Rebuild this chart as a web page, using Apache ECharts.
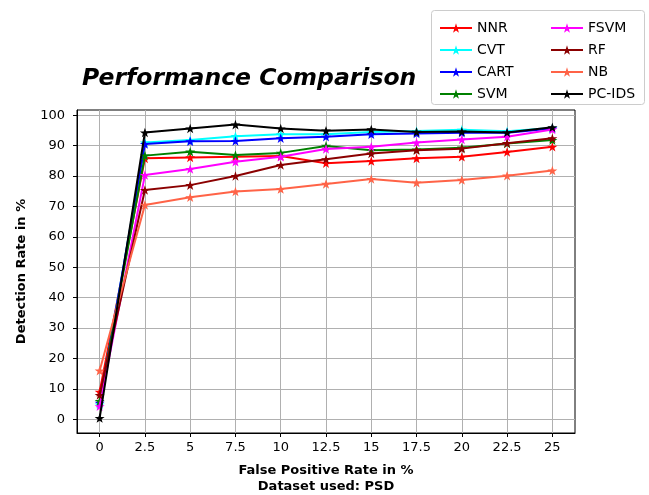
<!DOCTYPE html>
<html>
<head>
<meta charset="utf-8">
<script src="https://cdn.jsdelivr.net/npm/echarts@6/dist/echarts.min.js"></script>
<style>html,body{margin:0;padding:0;background:#fff}#c{width:649px;height:495px}</style>
</head>
<body>
<div id="c"></div>
<script>
const xValues = [0, 2.5, 5, 7.5, 10, 12.5, 15, 17.5, 20, 22.5, 25];
const yTicks = [0, 10, 20, 30, 40, 50, 60, 70, 80, 90, 100];
const seriesNames = ['NNR', 'CVT', 'CART', 'SVM', 'FSVM', 'RF', 'NB', 'PC-IDS'];
const NNR   = [9.0, 85.8, 86.1, 86.3, 86.6, 84.2, 84.9, 85.8, 86.3, 87.9, 89.6];
const CVT   = [4.8, 91.0, 91.8, 93.1, 93.7, 93.7, 94.5, 94.8, 95.2, 94.7, 95.8];
const CART  = [5.4, 90.5, 91.4, 91.5, 92.4, 92.9, 93.7, 94.0, 94.2, 94.2, 95.6];
const SVM   = [6.0, 86.7, 88.0, 86.9, 87.6, 89.9, 88.5, 88.7, 89.3, 90.7, 91.8];
const FSVM  = [4.3, 80.3, 82.3, 84.7, 86.3, 88.9, 89.6, 91.0, 92.0, 92.9, 95.3];
const RF    = [8.0, 75.4, 77.0, 80.0, 83.6, 85.5, 87.4, 88.5, 89.0, 90.8, 92.4];
const NB    = [16.0, 70.5, 73.0, 74.9, 75.7, 77.4, 79.0, 77.8, 78.7, 80.1, 81.8];
const PCIDS = [0.4, 94.3, 95.6, 96.9, 95.6, 94.9, 95.3, 94.5, 94.6, 94.3, 96.0];

const seriesData = [NNR, CVT, CART, SVM, FSVM, RF, NB, PCIDS];
const colors = ['#ff0000', '#00ffff', '#0000ff', '#008000', '#ff00ff', '#8b0000', '#ff6347', '#000000'];
const star = 'path://M50,0 L61.8,35.3 L98.1,35.3 L68.8,57.1 L79.4,91.9 L50,70.6 L20.6,91.9 L31.2,57.1 L1.9,35.3 L38.2,35.3 Z';
const FONT = 'DejaVu Sans';

const chart = echarts.init(document.getElementById('c'), null, {renderer: 'canvas'});
const series = seriesNames.map((name, i) => ({
  name: name,
  type: 'line',
  data: xValues.map((x, j) => [x, seriesData[i][j]]),
  symbol: star,
  symbolSize: 10,
  symbolKeepAspect: true,
  showAllSymbol: true,
  lineStyle: {width: 2, color: colors[i]},
  itemStyle: {color: colors[i]},
  color: colors[i],
  z: 2 + i,
  animation: false
}));

const legendCommon = {
  orient: 'vertical', top: 16,
  itemWidth: 32, itemHeight: 12, itemGap: 8,
  textStyle: {fontFamily: FONT, fontSize: 14, color: '#000'},
  z: 5
};

chart.setOption({
  animation: false,
  backgroundColor: '#ffffff',
  textStyle: {fontFamily: FONT},
  title: {
    text: 'Performance Comparison',
    left: 77, top: 62,
    textStyle: {fontFamily: FONT, fontSize: 23.5, fontWeight: 'bold', fontStyle: 'italic', color: '#000'}
  },
  graphic: [{
    type: 'rect', left: 431, top: 10, z: 0,
    shape: {width: 213, height: 94, r: 3},
    style: {fill: '#fff', stroke: '#cccccc', lineWidth: 1}
  }],
  legend: [
    Object.assign({}, legendCommon, {data: seriesNames.slice(0, 4), left: 434}),
    Object.assign({}, legendCommon, {data: seriesNames.slice(4), left: 545})
  ],
  grid: {
    left: 77, right: 74, top: 110, bottom: 62,
    show: true, borderColor: '#000', borderWidth: 1, backgroundColor: 'transparent',
    containLabel: false, outerBoundsMode: 'none'
  },
  xAxis: {
    type: 'value', min: -1.25, max: 26.25,
    name: 'False Positive Rate in %\nDataset used: PSD',
    nameLocation: 'middle', nameGap: 30,
    nameTextStyle: {fontFamily: FONT, fontSize: 13, fontWeight: 'bold', color: '#000', lineHeight: 16, verticalAlign: 'top'},
    axisLine: {show: true, onZero: false, lineStyle: {color: '#000'}},
    axisTick: {show: true, inside: false, length: 4, lineStyle: {color: '#000'}, customValues: xValues},
    axisLabel: {customValues: xValues, fontFamily: FONT, fontSize: 13, color: '#000', margin: 8},
    splitLine: {show: true, lineStyle: {color: '#b0b0b0', width: 1}}
  },
  yAxis: {
    type: 'value', min: -4.5, max: 101.7,
    name: 'Detection Rate in %',
    nameLocation: 'middle', nameGap: 49, nameRotate: 90,
    nameTextStyle: {fontFamily: FONT, fontSize: 13, fontWeight: 'bold', color: '#000'},
    axisLine: {show: true, onZero: false, lineStyle: {color: '#000'}},
    axisTick: {show: true, inside: false, length: 4, lineStyle: {color: '#000'}, customValues: yTicks},
    axisLabel: {customValues: yTicks, fontFamily: FONT, fontSize: 13, color: '#000', margin: 12},
    splitLine: {show: true, lineStyle: {color: '#b0b0b0', width: 1}}
  },
  series: series
});
</script>
</body>
</html>
